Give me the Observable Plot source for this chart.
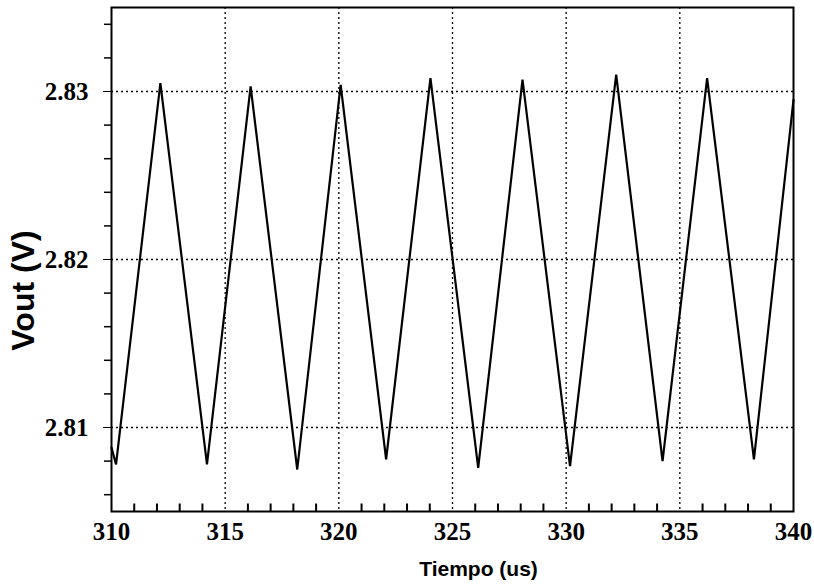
<!DOCTYPE html>
<html>
<head>
<meta charset="utf-8">
<script src="https://cdn.jsdelivr.net/npm/d3@7"></script>
<script src="https://cdn.jsdelivr.net/npm/@observablehq/plot@0.6"></script>
<style>
  html, body { margin: 0; padding: 0; background: #fff; }
  #chart svg { display: block; }
</style>
</head>
<body>
<div id="chart"></div>
<script>
const times = [310, 310.2, 312.15, 314.2, 316.12, 318.17, 320.08, 322.08, 324.03, 326.13, 328.08, 330.17, 332.2, 334.24, 336.2, 338.26, 340];
const volts = [2.8088, 2.8078, 2.8305, 2.8078, 2.8303, 2.8075, 2.8304, 2.8081, 2.8308, 2.8076, 2.8307, 2.8077, 2.8310, 2.8080, 2.8308, 2.8081, 2.8295];
const xMajor = [310, 315, 320, 325, 330, 335, 340];
const xGrid = [315, 320, 325, 330, 335];
const xMinor = [311, 312, 313, 314, 316, 317, 318, 319, 321, 322, 323, 324, 326, 327, 328, 329, 331, 332, 333, 334, 336, 337, 338, 339];
const yMajor = [2.81, 2.82, 2.83];
const yMinor = [2.806, 2.808, 2.812, 2.814, 2.816, 2.818, 2.822, 2.824, 2.826, 2.828, 2.832, 2.834];
const xDomain = [310, 340];
const yDomain = [2.805, 2.835];
const xTitle = "Tiempo (us)";
const yTitle = "Vout (V)";

const data = times.map((t, i) => ({t, v: volts[i]}));
const minorTicks = xMinor.map(x => ({x}));

const tickFont = {fontFamily: "'Liberation Serif', 'Times New Roman', serif", fontWeight: "bold", fontSize: 25};
const plotH = 588 - 7 - 77;
const tickLen = (yDomain[1] - yDomain[0]) * 8 / plotH;

const chart = Plot.plot({
  width: 814,
  height: 588,
  marginLeft: 111,
  marginRight: 21,
  marginTop: 7,
  marginBottom: 77,
  style: {background: "#fff", color: "#000"},
  x: {domain: xDomain},
  y: {domain: yDomain},
  marks: [
    Plot.gridX(xGrid, {stroke: "#000", strokeOpacity: 1, strokeWidth: 1.3, strokeDasharray: "2,3"}),
    Plot.gridY(yMajor, {stroke: "#000", strokeOpacity: 1, strokeWidth: 1.3, strokeDasharray: "2,3"}),
    Plot.axisX(xMajor, {tickSize: 0, tickPadding: 11, label: null, tickFormat: d => String(d), ...tickFont}),
    Plot.link(minorTicks, {x1: "x", x2: "x", y1: () => yDomain[0], y2: () => yDomain[0] + tickLen, stroke: "#000", strokeWidth: 2}),
    Plot.axisY(yMajor, {tickSize: 8, tickPadding: 15, label: null, tickFormat: d => d.toFixed(2), ...tickFont}),
    Plot.axisY(yMinor, {tickSize: 7, text: null, label: null, strokeWidth: 1.5}),
    Plot.line(data, {x: "t", y: "v", stroke: "#000", strokeWidth: 2.2, strokeLinejoin: "miter"}),
    Plot.frame({stroke: "#000", strokeWidth: 2}),
    Plot.text([xTitle], {frameAnchor: "bottom", dx: 26, dy: 58, lineAnchor: "middle", fontFamily: "'Liberation Sans', Arial, sans-serif", fontWeight: "bold", fontSize: 21}),
    Plot.text([yTitle], {frameAnchor: "left", textAnchor: "middle", rotate: -90, dx: -88, dy: 31, lineAnchor: "middle", fontFamily: "'Liberation Sans', Arial, sans-serif", fontWeight: "bold", fontSize: 32})
  ]
});
document.getElementById("chart").appendChild(chart);
</script>
</body>
</html>
